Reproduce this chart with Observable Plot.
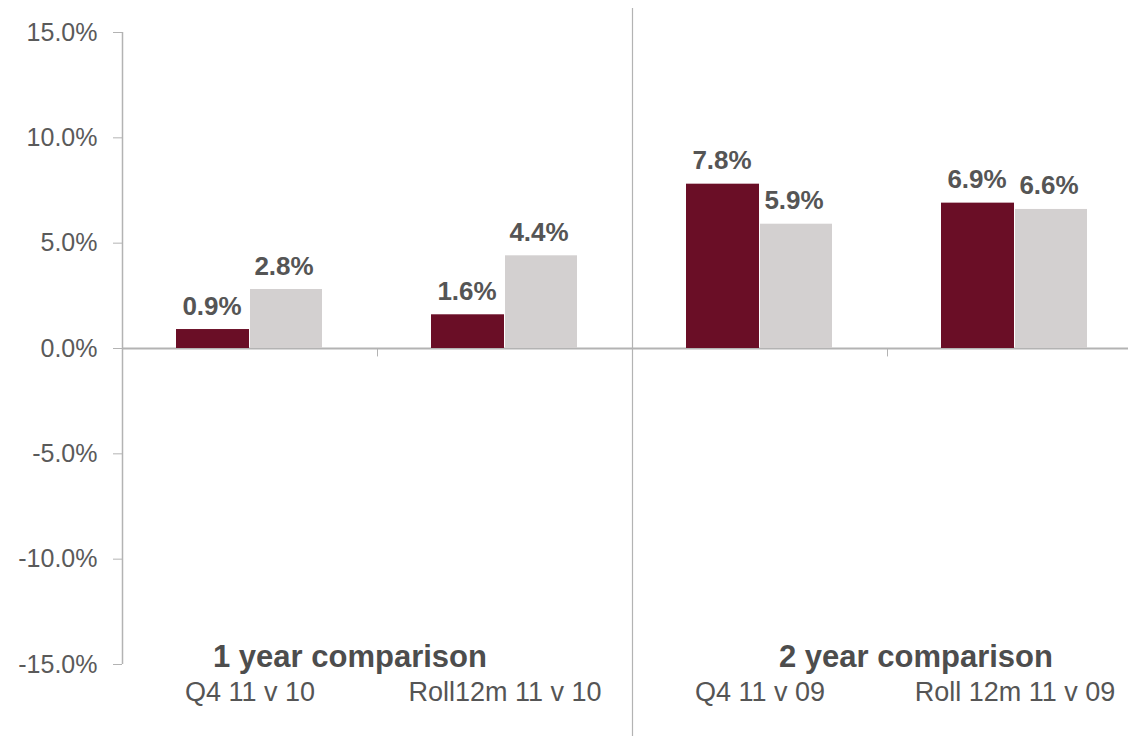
<!DOCTYPE html>
<html>
<head>
<meta charset="utf-8">
<script src="https://cdn.jsdelivr.net/npm/d3@7"></script>
<script src="https://cdn.jsdelivr.net/npm/@observablehq/plot@0.6"></script>
<style>
  html, body { margin: 0; padding: 0; background: #ffffff; }
  #chart { width: 1128px; height: 736px; }
</style>
</head>
<body>
<div id="chart"></div>
<script>
// ---- data ----
const categories = ["Q4 11 v 10", "Roll12m 11 v 10", "Q4 11 v 09", "Roll 12m 11 v 09"];
const seriesA = [0.9, 1.6, 7.8, 6.9];   // maroon bars
const seriesB = [2.8, 4.4, 5.9, 6.6];   // grey bars
const yTicks = [-15, -10, -5, 0, 5, 10, 15];
const groupTitles = ["1 year comparison", "2 year comparison"];

const rowsA = categories.map((c, i) => ({category: c, value: seriesA[i]}));
const rowsB = categories.map((c, i) => ({category: c, value: seriesB[i]}));
const fmt = d => d.toFixed(1) + "%";

const half = 127.5;      // half band width in px
const axisGrey = "#b3b3b3";
const textGrey = "#555555";

const chart = Plot.plot({
  width: 1128,
  height: 736,
  marginTop: 32,
  marginBottom: 72,
  marginLeft: 122,
  marginRight: 0,
  style: {fontFamily: "'Liberation Sans', Arial, sans-serif", background: "#ffffff", overflow: "visible"},
  x: {domain: categories, range: [122, 1142], padding: 0},
  y: {domain: [-15, 15]},
  marks: [
    // zero line
    Plot.ruleY([0], {stroke: axisGrey, strokeWidth: 2}),
    // bars
    Plot.barY(rowsA, {x: "category", y: "value", fill: "#6a0e26", insetLeft: 54, insetRight: 128}),
    Plot.barY(rowsB, {x: "category", y: "value", fill: "#d3d0d0", insetLeft: 128, insetRight: 55}),
    // value labels
    Plot.text(rowsA, {x: "category", y: "value", text: d => fmt(d.value), dx: -38, dy: -15, lineAnchor: "bottom",
      fontSize: 26, fontWeight: "bold", fill: textGrey}),
    Plot.text(rowsB, {x: "category", y: "value", text: d => fmt(d.value), dx: 34, dy: -15, lineAnchor: "bottom",
      fontSize: 26, fontWeight: "bold", fill: textGrey}),
    // left axis line
    Plot.ruleX([categories[0]], {dx: -half, stroke: axisGrey, strokeWidth: 1.5}),
    // centre divider
    Plot.ruleX([categories[1]], {dx: half, stroke: axisGrey, strokeWidth: 1.2, insetTop: -24, insetBottom: -72}),
    // small category ticks on zero line
    Plot.ruleX([categories[0], categories[2]], {dx: half, y1: 0, y2: -0.4, stroke: axisGrey}),
    // y axis
    Plot.axisY({ticks: yTicks, tickFormat: fmt, tickSize: 9, tickPadding: 16, fontSize: 25,
      stroke: axisGrey, fill: "#5a5a5a", label: null}),
    // x axis (category labels)
    Plot.axisX({tickSize: 0, tickPadding: 17, fontSize: 27, fill: textGrey, label: null}),
    // group titles
    Plot.text([groupTitles[0]], {x: () => categories[0], frameAnchor: "bottom", dx: 100, dy: 2, lineAnchor: "bottom",
      text: d => d, fontSize: 31, fontWeight: "bold", fill: "#4d4d4d"}),
    Plot.text([groupTitles[1]], {x: () => categories[3], frameAnchor: "bottom", dx: -99, dy: 2, lineAnchor: "bottom",
      text: d => d, fontSize: 31, fontWeight: "bold", fill: "#4d4d4d"})
  ]
});
document.getElementById("chart").appendChild(chart);
</script>
</body>
</html>
